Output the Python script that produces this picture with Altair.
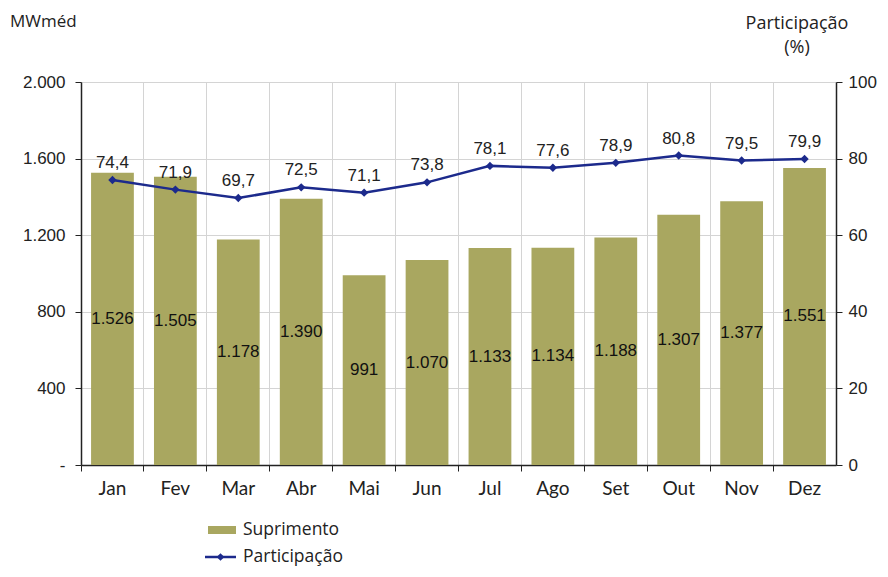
import altair as alt
import pandas as pd

months = ["Jan", "Fev", "Mar", "Abr", "Mai", "Jun", "Jul", "Ago", "Set", "Out", "Nov", "Dez"]
suprimento = [1526, 1505, 1178, 1390, 991, 1070, 1133, 1134, 1188, 1307, 1377, 1551]
suprimento_lbl = ["1.526", "1.505", "1.178", "1.390", "991", "1.070", "1.133", "1.134", "1.188", "1.307", "1.377", "1.551"]
participacao = [74.4, 71.9, 69.7, 72.5, 71.1, 73.8, 78.1, 77.6, 78.9, 80.8, 79.5, 79.9]
participacao_lbl = ["74,4", "71,9", "69,7", "72,5", "71,1", "73,8", "78,1", "77,6", "78,9", "80,8", "79,5", "79,9"]

df = pd.DataFrame({
    "mes": months,
    "sup": suprimento,
    "sup_lbl": suprimento_lbl,
    "par": participacao,
    "par_lbl": participacao_lbl,
})

BAR = "#a9a760"
LINE = "#1c2a8c"
GRID = "#d4d4d4"
LBLFONT = "Liberation Sans"
TXTFONT = "Lato"
TFONT = "Open Sans"

W, H = 755, 383

xenc = alt.X("mes:N", sort=months, title=None,
             scale=alt.Scale(paddingInner=0, paddingOuter=0),
             axis=alt.Axis(bandPosition=0, grid=True, gridColor=GRID, gridWidth=1,
                           domainColor="#222", domainWidth=1.5, tickColor="#222", tickSize=6,
                           labelAngle=0, labelFont=TXTFONT, labelFontSize=19, labelColor="#222",
                           labelPadding=8, labelAlign="center", title=None))

yleft_scale = alt.Scale(domain=[0, 2000])
yleft_axis = alt.Axis(values=[0, 400, 800, 1200, 1600, 2000],
                      labelExpr="datum.value == 0 ? '-' : replace(format(datum.value, ','), ',', '.')",
                      grid=True, gridColor=GRID, domainColor="#222", domainWidth=1.5,
                      tickColor="#222", tickSize=6, labelPadding=10,
                      labelFont=LBLFONT, labelFontSize=17, labelColor="#222", title=None)

bars = alt.Chart(df).mark_bar(color=BAR, width=alt.RelativeBandSize(0.68)).encode(
    x=xenc,
    y=alt.Y("sup:Q", scale=yleft_scale, axis=yleft_axis),
)
bar_text = alt.Chart(df).transform_calculate(mid="datum.sup / 2").mark_text(
    font=LBLFONT, fontSize=17, color="#111", baseline="middle"
).encode(
    x=xenc,
    y=alt.Y("mid:Q", scale=yleft_scale, axis=yleft_axis),
    text="sup_lbl:N",
)
bar_layer = alt.layer(bars, bar_text)

yright_scale = alt.Scale(domain=[0, 100])
yright_axis = alt.Axis(orient="right", values=[0, 20, 40, 60, 80, 100], grid=False,
                       domainColor="#222", domainWidth=1.5, tickColor="#222", tickSize=6,
                       labelPadding=6, labelFont=LBLFONT, labelFontSize=17, labelColor="#222",
                       title=None)

line = alt.Chart(df).mark_line(color=LINE, strokeWidth=2.5).encode(
    x=xenc,
    y=alt.Y("par:Q", scale=yright_scale, axis=yright_axis),
)
pts = alt.Chart(df).mark_point(shape="diamond", filled=True, color=LINE, size=70, opacity=1).encode(
    x=xenc,
    y=alt.Y("par:Q", scale=yright_scale, axis=yright_axis),
)
line_text = alt.Chart(df).mark_text(font=LBLFONT, fontSize=17, color="#222", dy=-17).encode(
    x=xenc,
    y=alt.Y("par:Q", scale=yright_scale, axis=yright_axis),
    text="par_lbl:N",
)
line_layer = alt.layer(line, pts, line_text)

one = pd.DataFrame({"k": [0]})
texts = alt.Chart(one)
title_left = texts.mark_text(text="MWméd", font=TFONT, fontSize=17, color="#222", align="left",
                             baseline="middle").encode(x=alt.value(-71), y=alt.value(-60))
title_r1 = texts.mark_text(text="Participação", font=TFONT, fontSize=18, color="#222", align="center",
                           baseline="middle").encode(x=alt.value(716), y=alt.value(-58))
title_r2 = texts.mark_text(text="(%)", font=TFONT, fontSize=18, color="#222", align="center",
                           baseline="middle").encode(x=alt.value(716), y=alt.value(-34))
leg_rect = texts.mark_rect(color=BAR).encode(x=alt.value(127), x2=alt.value(155),
                                             y=alt.value(444), y2=alt.value(452))
leg_rule = texts.mark_rule(color=LINE, strokeWidth=2.5).encode(x=alt.value(124), x2=alt.value(155),
                                                               y=alt.value(475))
leg_pt = texts.mark_point(shape="diamond", filled=True, color=LINE, size=60, opacity=1).encode(
    x=alt.value(139.5), y=alt.value(475))
leg_t1 = texts.mark_text(text="Suprimento", font=TFONT, fontSize=17.5, color="#222", align="left",
                         baseline="middle").encode(x=alt.value(162), y=alt.value(448))
leg_t2 = texts.mark_text(text="Participação", font=TFONT, fontSize=17.5, color="#222", align="left",
                         baseline="middle").encode(x=alt.value(162), y=alt.value(475))
deco = alt.layer(title_left, title_r1, title_r2, leg_rect, leg_rule, leg_pt, leg_t1, leg_t2)

chart = alt.layer(bar_layer, line_layer, deco).resolve_scale(y="independent").properties(
    width=W, height=H,
    autosize=alt.AutoSizeParams(type="none"),
    padding={"left": 73, "top": 74, "right": 44, "bottom": 104},
).configure_view(stroke=None).configure(background="white")

chart.save("out.html", embed_options={"renderer": "svg", "actions": False})
